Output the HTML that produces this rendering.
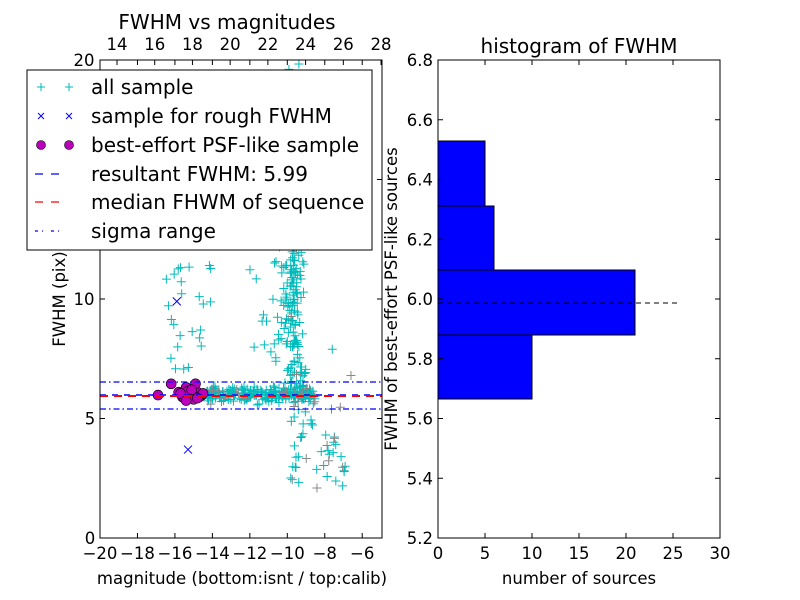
<!DOCTYPE html>
<html><head><meta charset="utf-8"><style>body{margin:0;background:#fff}svg{display:block}text{font-family:"DejaVu Sans","Liberation Sans",sans-serif}</style></head>
<body>
<svg id="s" width="800" height="600" xmlns="http://www.w3.org/2000/svg">
<rect width="800" height="600" fill="#fff"/>
<g id="pts"></g>
<line x1="100" x2="382" y1="382" y2="382" stroke="#00f" stroke-width="1.2" stroke-dasharray="6,3,1.5,3"/>
<line x1="100" x2="382" y1="409" y2="409" stroke="#00f" stroke-width="1.2" stroke-dasharray="6,3,1.5,3"/>
<line x1="100" x2="382" y1="395" y2="395" stroke="#00f" stroke-width="1.5" stroke-dasharray="6,6"/>
<line x1="100" x2="382" y1="396" y2="396" stroke="#f00" stroke-width="2" stroke-dasharray="8,6"/>
<rect x="100" y="60" width="282" height="478" fill="none" stroke="#000"/>
<g id="lt" stroke="#000"></g>
<g font-size="16.5" text-anchor="middle" id="ltx"></g>
<text x="227" y="29" font-size="20" text-anchor="middle">FWHM vs magnitudes</text>
<text x="242" y="584" font-size="16.5" text-anchor="middle">magnitude (bottom:isnt / top:calib)</text>
<text transform="translate(65,299) rotate(-90)" font-size="16.5" text-anchor="middle">FWHM (pix)</text>
<rect x="27" y="70" width="345" height="180" fill="#fff" stroke="#000"/>
<g font-size="20">
<text x="91" y="94">all sample</text>
<text x="91" y="123">sample for rough FWHM</text>
<text x="91" y="152">best-effort PSF-like sample</text>
<text x="91" y="181">resultant FWHM: 5.99</text>
<text x="91" y="209">median FHWM of sequence</text>
<text x="91" y="238">sigma range</text>
</g>
<g stroke="#0bb" stroke-width="1"><path d="M37 87h8M41 83v8M65 87h8M69 83v8"/></g>
<g stroke="#00f" stroke-width="1"><path d="M38 113l6 6M44 113l-6 6M66 113l6 6M72 113l-6 6"/></g>
<circle cx="41" cy="145" r="4.5" fill="#b0b" stroke="#000" stroke-width=".6"/><circle cx="69" cy="145" r="4.5" fill="#b0b" stroke="#000" stroke-width=".6"/>
<path d="M35 174h8M51 174h8" stroke="#00f" stroke-width="1.3"/>
<path d="M35 202h8M51 202h8" stroke="#f00" stroke-width="1.3"/>
<path d="M35 231h3M42 231h1M51 231h3M58 231h1" stroke="#00f" stroke-width="1.3"/>
<rect x="438" y="335" width="94" height="64" fill="#00f" stroke="#000"/>
<rect x="438" y="270" width="197" height="65" fill="#00f" stroke="#000"/>
<rect x="438" y="206" width="56" height="64" fill="#00f" stroke="#000"/>
<rect x="438" y="141" width="47" height="65" fill="#00f" stroke="#000"/>
<line x1="438" x2="677" y1="303" y2="303" stroke="#000" stroke-dasharray="5,4"/>
<rect x="438" y="60" width="282" height="478" fill="none" stroke="#000"/>
<g id="rt" stroke="#000"></g>
<g font-size="16.5" id="rtx"></g>
<text x="579" y="53" font-size="20" text-anchor="middle">histogram of FWHM</text>
<text x="579" y="584" font-size="16.5" text-anchor="middle">number of sources</text>
<text transform="translate(397,299) rotate(-90)" font-size="16.5" text-anchor="middle">FWHM of best-effort PSF-like sources</text>
</svg>
<script>
var NS="http://www.w3.org/2000/svg";
function el(p,t,a,txt){var e=document.createElementNS(NS,t);for(var k in a)e.setAttribute(k,a[k]);if(txt!=null)e.textContent=txt;document.getElementById(p).appendChild(e);return e;}
var seed=7;function r(){seed=(seed*16807)%2147483647;return seed/2147483647;}
function g(){return (r()+r()+r()+r()-2)/1.2;}
function X(m){return 100+(m+20)*18.73;}function Y(f){return 538-f*23.9;}
var d="",dg="";
function plus(x,y,gray){var s="M"+(x-4.5)+" "+y+"h9M"+x+" "+(y-4.5)+"v9";if(gray)dg+=s;else d+=s;}
for(var i=0;i<240;i++){plus(X(-14.3+r()*5.8),Y(6+g()*0.3),r()<0.06);}
for(var i=0;i<200;i++){var f=5.5+r()*9;plus(X(-9.7+g()*0.6+(f<8?0.2:0)),Y(f),r()<0.06);}
for(var i=0;i<25;i++){plus(X(-9.8+g()*0.4),Y(14+r()*6));}
for(var i=0;i<45;i++){plus(X(-9.9+r()*3),Y(2+r()*3.5),r()<0.1);}
for(var i=0;i<25;i++){plus(X(-16.5+r()*2.5),Y(7+r()*4.5));}
for(var i=0;i<20;i++){plus(X(-12+r()*2),Y(7+r()*5));}
plus(X(-6.6),Y(6.8),true);plus(X(-7.6),Y(7.9));
el("pts","path",{d:d,stroke:"#0bb","stroke-width":1,fill:"none"});
el("pts","path",{d:dg,stroke:"#888","stroke-width":1,fill:"none"});
el("pts","path",{d:"M"+(X(-15.9)-4)+" "+(Y(9.9)-4)+"l8 8m0 -8l-8 8M"+(X(-15.3)-4)+" "+(Y(3.7)-4)+"l8 8m0 -8l-8 8",stroke:"#00f","stroke-width":1});
var cs=[[-16.9,5.98],[-16.2,6.45],[-15.8,6.1],[-15.6,5.9],[-15.4,6.3],[-15.2,6.0],[-15.0,5.8],[-14.8,6.1],[-14.6,5.95],[-14.9,6.45],[-15.5,5.85],[-15.3,6.15],[-14.7,5.9],[-15.1,6.2],[-15.7,6.05],[-14.5,6.05],[-15.4,5.75],[-14.8,5.85]];
cs.forEach(function(c){el("pts","circle",{cx:X(c[0]),cy:Y(c[1]),r:5,fill:"#b0b",stroke:"#000","stroke-width":.6});});
var t="";
for(var m=-20;m<=-6;m+=2){var x=X(m);t+="M"+x+" 538v-5M"+x+" 60v5";el("ltx","text",{x:x,y:559},"\u2212"+(-m));}
for(var v=0;v<=20;v+=5){var y=Y(v);t+="M100 "+y+"h5M382 "+y+"h-5";el("ltx","text",{x:v<10?90:84,y:y+6},v);}
for(var m=14;m<=28;m+=2){var x=117+(m-14)*18.86;t+="M"+x+" 60v5";el("ltx","text",{x:x,y:50},m);}
el("lt","path",{d:t,fill:"none"});
t="";
for(var n=0;n<=30;n+=5){var x=438+n*9.4;t+="M"+x+" 538v-5M"+x+" 60v5";el("rtx","text",{x:x,y:559,"text-anchor":"middle"},n);}
for(var k=0;k<=8;k++){var v=5.2+k*0.2,y=538-k*59.75;t+="M438 "+y+"h5M720 "+y+"h-5";el("rtx","text",{x:433,y:y+6,"text-anchor":"end"},v.toFixed(1));}
el("rt","path",{d:t,fill:"none"});
</script>
</body></html>
